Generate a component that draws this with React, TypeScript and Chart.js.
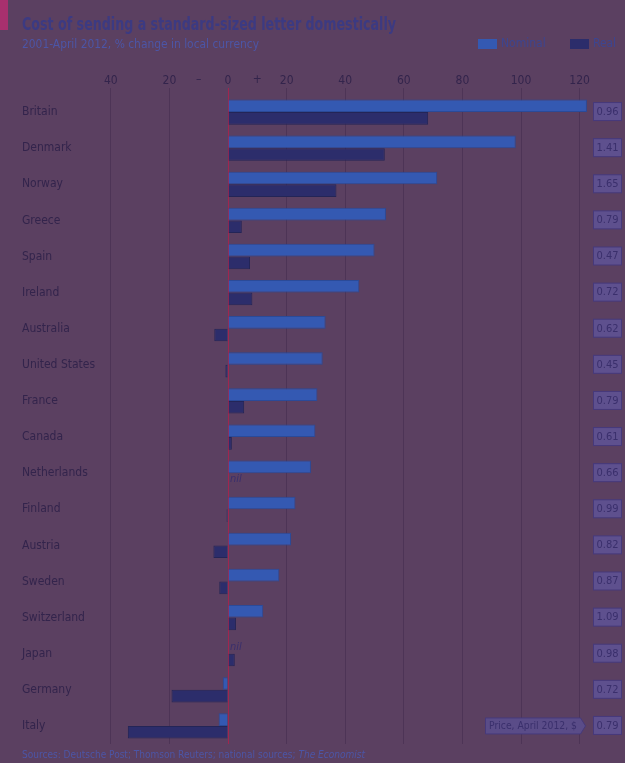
import { useEffect, useRef } from "react";
import { Chart, registerables } from "chart.js";

Chart.register(...registerables);

const countries = [
  "Britain", "Denmark", "Norway", "Greece", "Spain", "Ireland", "Australia",
  "United States", "France", "Canada", "Netherlands", "Finland", "Austria",
  "Sweden", "Switzerland", "Japan", "Germany", "Italy",
];
const nominal = [122.5, 98.2, 71.4, 53.9, 50.0, 44.8, 33.3, 32.3, 30.5, 29.8, 28.3, 23.0, 21.5, 17.5, 12.0, 0, -1.8, -3.2];
const real = [68.3, 53.5, 37.0, 4.7, 7.5, 8.3, -4.7, -0.9, 5.5, 1.3, 0, -0.5, -5.0, -3.0, 2.7, 2.3, -19.3, -34.2];
const prices = ["0.96", "1.41", "1.65", "0.79", "0.47", "0.72", "0.62", "0.45", "0.79", "0.61", "0.66", "0.99", "0.82", "0.87", "1.09", "0.98", "0.72", "0.79"];
const nilNominal = ["Japan"];
const nilReal = ["Netherlands"];
const xTicks = [-40, -20, 0, 20, 40, 60, 80, 100, 120];

const TITLE = "Cost of sending a standard-sized letter domestically";
const SUBTITLE = "2001-April 2012, % change in local currency";
const SOURCE_A = "Sources: Deutsche Post; Thomson Reuters; national sources; ";
const SOURCE_B = "The Economist";
const PRICE_LABEL = "Price, April 2012, $";

const FONT = "'DejaVu Sans Condensed', 'Liberation Sans Narrow', 'Open Sans', sans-serif";
const BG = "#5b4061";
const TEXT = "#33244c";
const GRID = "#4d3456";
const ZERO = "#a0264f";
const NOMINAL = "#3459b2";
const REAL = "#2c2d6b";
const SOFT = "#4c55a6";

// draw text horizontally compressed so it spans `width`
function fitText(ctx: CanvasRenderingContext2D, text: string, x: number, y: number, width: number) {
  const w = ctx.measureText(text).width;
  const s = Math.min(1, width / w);
  ctx.save();
  ctx.translate(x, y);
  ctx.scale(s, 1);
  ctx.textAlign = "left";
  ctx.fillText(text, 0, 0);
  ctx.restore();
  return w * s;
}

export default function App() {
  const ref = useRef<HTMLCanvasElement | null>(null);

  useEffect(() => {
    document.body.style.margin = "0";
    const canvas = ref.current;
    if (!canvas) return;

    const decor = {
      id: "decor",
      beforeDraw(chart: any) {
        const ctx = chart.ctx;
        ctx.save();
        ctx.fillStyle = BG;
        ctx.fillRect(0, 0, chart.width, chart.height);
        ctx.restore();
      },
      afterDraw(chart: any) {
        const ctx = chart.ctx as CanvasRenderingContext2D;
        const xs = chart.scales.x;
        const ys = chart.scales.y;
        ctx.save();
        // red tag
        ctx.fillStyle = "#a8306e";
        ctx.fillRect(0, 0, 8, 30);
        // title
        ctx.textBaseline = "alphabetic";
        ctx.fillStyle = "#3c3a82";
        ctx.font = `bold 17px ${FONT}`;
        fitText(ctx, TITLE, 22, 30, 374);
        ctx.fillStyle = SOFT;
        ctx.font = `12px ${FONT}`;
        fitText(ctx, SUBTITLE, 22, 48, 237);
        // legend
        ctx.fillStyle = NOMINAL;
        ctx.fillRect(478, 39, 19, 10);
        ctx.fillStyle = REAL;
        ctx.fillRect(570, 39, 19, 10);
        ctx.fillStyle = "#3d4590";
        ctx.font = `12px ${FONT}`;
        ctx.textBaseline = "middle";
        fitText(ctx, "Nominal", 501, 44, 45);
        fitText(ctx, "Real", 593, 44, 23);
        // - and + signs
        ctx.fillStyle = TEXT;
        ctx.textAlign = "center";
        ctx.font = `12px ${FONT}`;
        ctx.fillText("\u2013", xs.getPixelForValue(-10), 80);
        ctx.fillText("+", xs.getPixelForValue(10), 80);
        // country labels and price boxes
        countries.forEach((c, i) => {
          const y = ys.getPixelForValue(i);
          ctx.textAlign = "left";
          ctx.fillStyle = TEXT;
          ctx.font = `12px ${FONT}`;
          ctx.fillText(c, 22, y);
          ctx.fillStyle = "#5e508e";
          ctx.strokeStyle = "#46397b";
          ctx.lineWidth = 1;
          ctx.fillRect(593.5, y - 9.5, 28, 18);
          ctx.strokeRect(593.5, y - 9.5, 28, 18);
          ctx.fillStyle = "#3a2f6c";
          ctx.textAlign = "center";
          ctx.font = `11px ${FONT}`;
          ctx.fillText(prices[i], 607.5, y);
        });
        // nil labels
        const drawNil = (list: string[], ds: number) => {
          list.forEach((c) => {
            const i = countries.indexOf(c);
            const el = chart.getDatasetMeta(ds).data[i];
            ctx.fillStyle = "#3a2f6c";
            ctx.textAlign = "left";
            ctx.font = `italic 11px ${FONT}`;
            ctx.fillText("nil", xs.getPixelForValue(0) + 2, el.y);
          });
        };
        drawNil(nilNominal, 0);
        drawNil(nilReal, 1);
        // price label box with arrow
        const yl = ys.getPixelForValue(countries.length - 1);
        ctx.fillStyle = "#5a4c88";
        ctx.strokeStyle = "#46397b";
        ctx.beginPath();
        ctx.moveTo(485.5, yl - 8);
        ctx.lineTo(580.5, yl - 8);
        ctx.lineTo(585.5, yl);
        ctx.lineTo(580.5, yl + 8);
        ctx.lineTo(485.5, yl + 8);
        ctx.closePath();
        ctx.fill();
        ctx.stroke();
        ctx.fillStyle = "#3a2f6c";
        ctx.font = `11px ${FONT}`;
        fitText(ctx, PRICE_LABEL, 489, yl, 88);
        // sources
        ctx.textBaseline = "middle";
        ctx.fillStyle = SOFT;
        ctx.font = `11px ${FONT}`;
        const wa = ctx.measureText(SOURCE_A).width;
        ctx.font = `italic 11px ${FONT}`;
        const wb = ctx.measureText(SOURCE_B).width;
        const s = 343 / (wa + wb);
        ctx.font = `11px ${FONT}`;
        fitText(ctx, SOURCE_A, 22, 755, wa * s);
        ctx.font = `italic 11px ${FONT}`;
        fitText(ctx, SOURCE_B, 22 + wa * s, 755, wb * s);
        ctx.restore();
      },
    };

    const chart = new Chart(canvas, {
      type: "bar",
      data: {
        labels: countries,
        datasets: [
          {
            label: "Nominal",
            data: nominal,
            backgroundColor: NOMINAL,
            borderColor: "#2b4a98",
            borderWidth: 1,
            categoryPercentage: 0.7,
            barPercentage: 1.0,
          },
          {
            label: "Real",
            data: real,
            backgroundColor: REAL,
            borderColor: "#242557",
            borderWidth: 1,
            categoryPercentage: 0.7,
            barPercentage: 1.0,
          },
        ],
      },
      options: {
        indexAxis: "y",
        responsive: false,
        maintainAspectRatio: false,
        animation: false,
        layout: { padding: { left: 105, right: 36.6, top: 74, bottom: 19 } },
        plugins: { legend: { display: false }, tooltip: { enabled: false }, title: { display: false } },
        scales: {
          x: {
            position: "top",
            min: -42,
            max: 123,
            afterBuildTicks: (scale: any) => {
              scale.ticks = xTicks.map((v) => ({ value: v }));
            },
            afterFit: (scale: any) => {
              scale.height = 20;
            },
            border: { display: false },
            grid: {
              drawTicks: true,
              tickLength: 6,
              color: (ctx: any) => (ctx.tick && ctx.tick.value === 0 ? ZERO : GRID),
              lineWidth: 1,
            },
            ticks: {
              padding: 0,
              color: TEXT,
              font: { family: FONT, size: 12 },
              callback: (v: any) => String(Math.abs(Number(v))),
            },
          },
          y: {
            display: false,
            grid: { display: false },
          },
        },
      },
      plugins: [decor],
    });

    return () => chart.destroy();
  }, []);

  return <canvas ref={ref} width={625} height={763} style={{ display: "block" }} />;
}
